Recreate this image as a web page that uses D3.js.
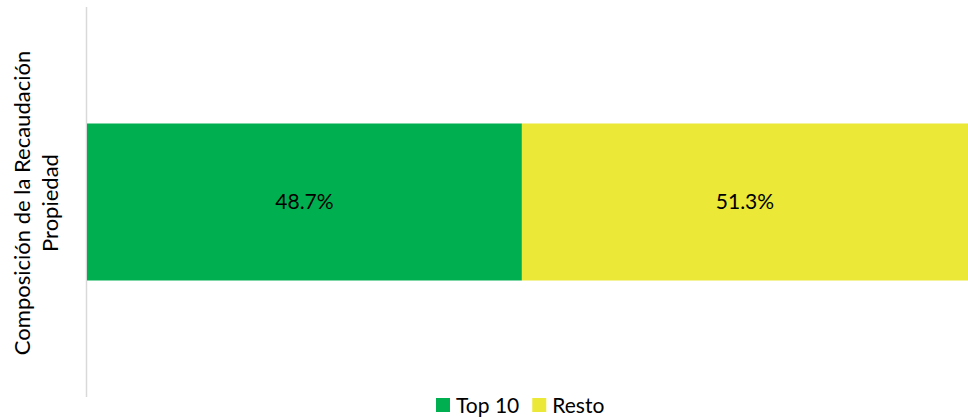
<!DOCTYPE html>
<html>
<head>
<meta charset="utf-8">
<script src="https://cdn.jsdelivr.net/npm/d3@7"></script>
<style>
  body { margin: 0; background: #fff; }
  svg { display: block; font-family: Lato, "Open Sans", sans-serif; }
</style>
</head>
<body>
<div id="chart"></div>
<script>
// data
const categories = ["Composición de la Recaudación Propiedad"];
const seriesNames = ["Top 10", "Resto"];
const seriesValues = [48.7, 51.3];
const seriesColors = ["#00b050", "#ebe837"];
const yTitleLines = ["Composición de la Recaudación", "Propiedad"];

const width = 968, height = 419;

const svg = d3.select("#chart").append("svg")
    .attr("width", width)
    .attr("height", height);

// stacked layout
const row = {};
seriesNames.forEach((s, i) => row[s] = seriesValues[i]);
const stacked = d3.stack().keys(seriesNames)([row]);

// the plot runs past the right edge of the picture (clipped like the original)
const x = d3.scaleLinear().domain([0, 100]).range([87, 980]);
const y = d3.scaleBand().domain(categories).range([7, 397]).paddingInner(0).paddingOuter(0.742);

// vertical axis line
svg.append("line")
    .attr("x1", 86.5).attr("x2", 86.5)
    .attr("y1", 7).attr("y2", 397)
    .attr("stroke", "#d9d9d9")
    .attr("stroke-width", 1.5);

const layers = svg.selectAll("g.layer")
    .data(stacked)
    .join("g")
    .attr("class", "layer")
    .attr("fill", (d, i) => seriesColors[i]);

layers.selectAll("rect")
    .data(d => d)
    .join("rect")
    .attr("x", d => x(d[0]))
    .attr("width", d => x(d[1]) - x(d[0]))
    .attr("y", y(categories[0]))
    .attr("height", y.bandwidth());

// data labels, centred in the visible part of each segment
layers.append("text")
    .attr("x", d => (x(d[0][0]) + Math.min(x(d[0][1]), width)) / 2)
    .attr("y", y(categories[0]) + y.bandwidth() / 2)
    .attr("dy", "0.35em")
    .attr("text-anchor", "middle")
    .attr("font-size", 21)
    .attr("fill", "#000")
    .text((d, i) => d3.format(".1f")(seriesValues[i]) + "%");

// y axis title (two lines, rotated)
const yt = svg.append("text")
    .attr("transform", "translate(22,203) rotate(-90)")
    .attr("text-anchor", "middle")
    .attr("font-size", 22)
    .attr("fill", "#000");
yTitleLines.forEach((t, i) => {
    yt.append("tspan")
        .attr("x", 0)
        .attr("dy", i === 0 ? "0.35em" : 28)
        .text(t);
});

// legend
const legend = svg.append("g").attr("transform", "translate(436,398)");
let lx = 0;
seriesNames.forEach((s, i) => {
    const g = legend.append("g").attr("transform", `translate(${lx},0)`);
    g.append("rect").attr("width", 14).attr("height", 14).attr("fill", seriesColors[i]);
    const t = g.append("text")
        .attr("x", 20).attr("y", 14.5)
        .attr("font-size", 21)
        .attr("fill", "#000")
        .text(s);
    lx += 20 + t.node().getComputedTextLength() + 13;
});
</script>
</body>
</html>
